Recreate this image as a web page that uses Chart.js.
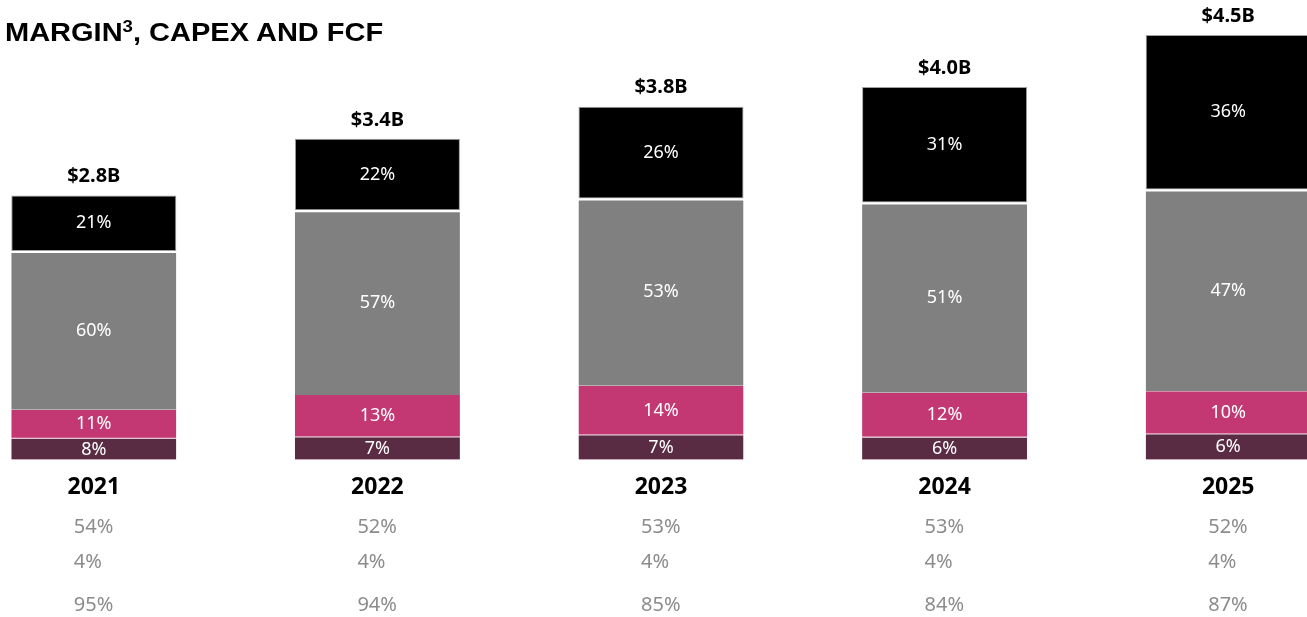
<!DOCTYPE html>
<html>
<head>
<meta charset="utf-8">
<script src="https://cdn.jsdelivr.net/npm/chart.js@4.4.0/dist/chart.umd.min.js"></script>
<style>
  html, body { margin: 0; padding: 0; background: #fff; overflow: hidden; }
  #wrap { position: relative; width: 1307px; height: 617px; overflow: hidden; }
  #title { position: absolute; left: 5px; top: 18px; font-family: "Liberation Sans", Arial, sans-serif;
           font-weight: bold; font-size: 25px; color: #000; white-space: nowrap;
           transform: scaleX(1.16); transform-origin: left top; }
  #title sup { font-size: 16px; vertical-align: 0; position: relative; top: -9px; }
  #myChart { position: absolute; left: -48px; top: 0; }
</style>
</head>
<body>
<div id="wrap">
  <canvas id="myChart" width="1418" height="617"></canvas>
  <div id="title">MARGIN<sup>3</sup>, CAPEX AND FCF</div>
</div>
<script>
// data (bar heights in $B, labels as printed)
const years = ['2021', '2022', '2023', '2024', '2025'];
const totals = [2.8, 3.4, 3.74, 3.95, 4.5];
const totalLabels = ['$2.8B', '$3.4B', '$3.8B', '$4.0B', '$4.5B'];
const pctBottom = [8, 7, 7, 6, 6];
const pctPink = [11, 13, 14, 12, 10];
const pctGray = [60, 57, 53, 51, 47];
const pctTop = [21, 22, 26, 31, 36];
const row1 = ['54%', '52%', '53%', '53%', '52%'];
const row2 = ['4%', '4%', '4%', '4%', '4%'];
const row3 = ['95%', '94%', '85%', '84%', '87%'];

const pctSets = [pctBottom, pctPink, pctGray, pctTop];

// each segment is its share of the bar total
function toValues(pcts) {
  return pcts.map(function(p, i) {
    var sum = pctSets.reduce(function(s, arr) { return s + arr[i]; }, 0);
    return totals[i] * p / sum;
  });
}

const labelFont = '"Noto Sans", "Open Sans", sans-serif';

const textPlugin = {
  id: 'textPlugin',
  afterDatasetsDraw: function(chart) {
    const ctx = chart.ctx;
    const area = chart.chartArea;
    ctx.save();
    ctx.textAlign = 'center';
    ctx.textBaseline = 'middle';
    // segment labels
    chart.data.datasets.forEach(function(ds, di) {
      const meta = chart.getDatasetMeta(di);
      meta.data.forEach(function(bar, i) {
        ctx.fillStyle = '#ffffff';
        ctx.font = '18px ' + labelFont;
        ctx.fillText(pctSets[di][i] + '%', bar.x, (bar.y + bar.base) / 2);
      });
    });
    // totals above the bars, years and rows below
    const topMeta = chart.getDatasetMeta(chart.data.datasets.length - 1);
    topMeta.data.forEach(function(bar, i) {
      ctx.fillStyle = '#000';
      ctx.font = 'bold 20px ' + labelFont;
      ctx.textAlign = 'center';
      ctx.fillText(totalLabels[i], bar.x, bar.y - 19);
      ctx.font = 'bold 23px ' + labelFont;
      ctx.fillText(years[i], bar.x, area.bottom + 27);
      ctx.fillStyle = '#8c8c8c';
      ctx.font = '20px ' + labelFont;
      ctx.textAlign = 'left';
      ctx.fillText(row1[i], bar.x - 20, area.bottom + 67);
      ctx.fillText(row2[i], bar.x - 20, area.bottom + 102);
      ctx.fillText(row3[i], bar.x - 20, area.bottom + 145);
    });
    ctx.restore();
  }
};

var chartdata = {
  labels: years,
  datasets: [
    { label: 'bottom', data: toValues(pctBottom), backgroundColor: '#5a2c43', borderColor: '#c9a9b8', borderWidth: { bottom: 1 }, borderSkipped: false },
    { label: 'pink', data: toValues(pctPink), backgroundColor: '#c33872', borderColor: '#e7a9c2', borderWidth: { bottom: 1 }, borderSkipped: false },
    { label: 'gray', data: toValues(pctGray), backgroundColor: '#808080', borderColor: '#ffffff', borderWidth: { top: 2 }, borderSkipped: false },
    { label: 'top', data: toValues(pctTop), backgroundColor: '#000000', borderColor: '#a0a0a0', borderWidth: 1, borderSkipped: false }
  ]
};

var ctx = document.getElementById('myChart').getContext('2d');
var StackChart = new Chart(ctx, {
  type: 'bar',
  data: chartdata,
  plugins: [textPlugin],
  options: {
    responsive: false,
    animation: false,
    layout: { padding: { top: 0, bottom: 157, left: 0, right: 0 } },
    datasets: { bar: { categoryPercentage: 1, barPercentage: 0.582 } },
    plugins: { legend: { display: false }, tooltip: { enabled: false } },
    scales: {
      x: { stacked: true, display: false },
      y: { stacked: true, display: false, min: 0, max: 4.87 }
    }
  }
});
</script>
</body>
</html>
